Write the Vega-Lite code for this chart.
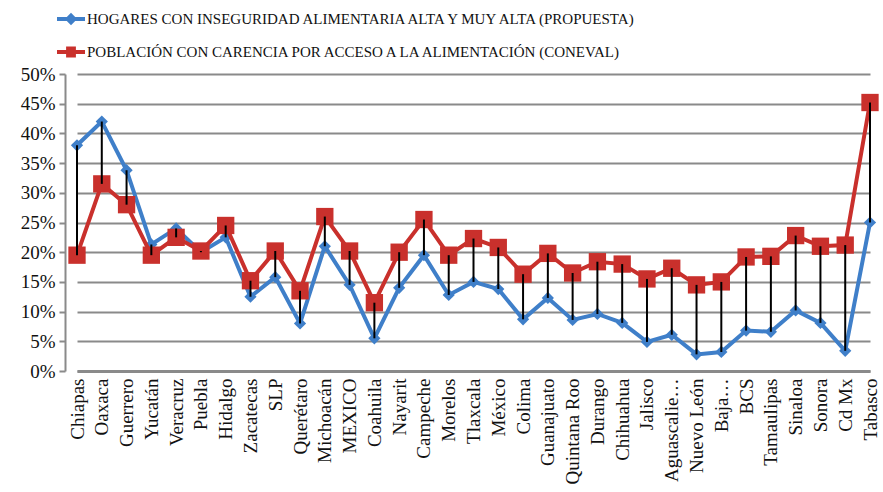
{
  "$schema": "https://vega.github.io/schema/vega-lite/v6.json",
  "width": 818,
  "height": 297,
  "autosize": "none",
  "padding": {"left": 65, "top": 74, "right": 0, "bottom": 121},
  "background": "white",
  "config": {
    "view": {"stroke": null},
    "font": "Liberation Serif",
    "axis": {"labelFont": "Liberation Serif"},
    "legend": {"labelFont": "Liberation Serif"}
  },
  "data": {
    "values": [
      {"estado": "Chiapas", "propuesta": 0.38, "coneval": 0.195},
      {"estado": "Oaxaca", "propuesta": 0.42, "coneval": 0.315},
      {"estado": "Guerrero", "propuesta": 0.338, "coneval": 0.28},
      {"estado": "Yucatán", "propuesta": 0.213, "coneval": 0.195},
      {"estado": "Veracruz", "propuesta": 0.24, "coneval": 0.225},
      {"estado": "Puebla", "propuesta": 0.20, "coneval": 0.202},
      {"estado": "Hidalgo", "propuesta": 0.225, "coneval": 0.245},
      {"estado": "Zacatecas", "propuesta": 0.125, "coneval": 0.152},
      {"estado": "SLP", "propuesta": 0.158, "coneval": 0.202},
      {"estado": "Querétaro", "propuesta": 0.08, "coneval": 0.135},
      {"estado": "Michoacán", "propuesta": 0.21, "coneval": 0.26},
      {"estado": "MEXICO", "propuesta": 0.145, "coneval": 0.202},
      {"estado": "Coahuila", "propuesta": 0.055, "coneval": 0.115},
      {"estado": "Nayarit", "propuesta": 0.14, "coneval": 0.20},
      {"estado": "Campeche", "propuesta": 0.195, "coneval": 0.255},
      {"estado": "Morelos", "propuesta": 0.128, "coneval": 0.195},
      {"estado": "Tlaxcala", "propuesta": 0.15, "coneval": 0.223},
      {"estado": "México", "propuesta": 0.138, "coneval": 0.208},
      {"estado": "Colima", "propuesta": 0.087, "coneval": 0.163},
      {"estado": "Guanajuato", "propuesta": 0.123, "coneval": 0.198},
      {"estado": "Quintana Roo", "propuesta": 0.086, "coneval": 0.165},
      {"estado": "Durango", "propuesta": 0.096, "coneval": 0.184},
      {"estado": "Chihuahua", "propuesta": 0.081, "coneval": 0.18},
      {"estado": "Jalisco", "propuesta": 0.049, "coneval": 0.155},
      {"estado": "Aguascalie…", "propuesta": 0.061, "coneval": 0.173},
      {"estado": "Nuevo León", "propuesta": 0.028, "coneval": 0.145},
      {"estado": "Baja…", "propuesta": 0.032, "coneval": 0.15},
      {"estado": "BCS", "propuesta": 0.068, "coneval": 0.192},
      {"estado": "Tamaulipas", "propuesta": 0.066, "coneval": 0.193},
      {"estado": "Sinaloa", "propuesta": 0.102, "coneval": 0.228},
      {"estado": "Sonora", "propuesta": 0.081, "coneval": 0.21},
      {"estado": "Cd Mx", "propuesta": 0.034, "coneval": 0.212},
      {"estado": "Tabasco", "propuesta": 0.25, "coneval": 0.452}
    ]
  },
  "transform": [
    {"fold": ["propuesta", "coneval"], "as": ["clave", "valor"]},
    {"lookup": "clave", "from": {"data": {"values": [
      {"clave": "propuesta", "serie": "HOGARES CON INSEGURIDAD ALIMENTARIA ALTA Y MUY ALTA (PROPUESTA)"},
      {"clave": "coneval", "serie": "POBLACIÓN CON CARENCIA POR ACCESO A LA ALIMENTACIÓN (CONEVAL)"}
    ]}, "key": "clave", "fields": ["serie"]}}
  ],
  "encoding": {
    "x": {
      "field": "estado", "type": "nominal", "sort": null,
      "scale": {"type": "point", "range": [12, 805], "padding": 0},
      "axis": {
        "title": null, "labelAngle": -90, "labelFontSize": 19, "labelColor": "#111",
        "labelFont": "Liberation Serif",
        "labelPadding": 7, "ticks": false, "domain": true, "domainColor": "#8a8a8a",
        "domainWidth": 3, "labelOverlap": false, "labelLimit": 0, "grid": false
      }
    },
    "y": {"field": "valor", "type": "quantitative",
      "scale": {"domain": [0, 0.5], "nice": false},
      "axis": {
        "title": null, "format": ".0%", "values": [0, 0.05, 0.1, 0.15, 0.2, 0.25, 0.3, 0.35, 0.4, 0.45, 0.5],
        "labelFontSize": 19, "labelColor": "#111", "labelPadding": 4, "labelFont": "Liberation Serif",
        "labelOverlap": false,
        "tickSize": 6, "tickColor": "#8a8a8a", "tickWidth": 2,
        "domain": true, "domainColor": "#8a8a8a", "domainWidth": 2,
        "grid": true, "gridColor": "#8a8a8a", "gridWidth": 2
      }}
  },
  "layer": [
    {
      "transform": [{"filter": "datum.clave == 'propuesta'"}],
      "mark": {"type": "line", "strokeWidth": 4},
      "encoding": {
        "color": {"field": "serie", "type": "nominal",
          "scale": {"domain": ["HOGARES CON INSEGURIDAD ALIMENTARIA ALTA Y MUY ALTA (PROPUESTA)", "POBLACIÓN CON CARENCIA POR ACCESO A LA ALIMENTACIÓN (CONEVAL)"], "range": ["#3f7fc9", "#c9302c"]},
          "legend": {
            "title": null, "orient": "none", "legendX": -8, "legendY": -69,
            "direction": "vertical", "padding": 0, "rowPadding": 11,
            "symbolSize": 784, "labelOffset": 2, "labelFontSize": 15, "labelColor": "#111",
            "labelFont": "Liberation Serif",
            "labelLimit": 0, "symbolStrokeWidth": 0,
            "encode": {
              "labels": {"update": {"font": {"value": "Liberation Serif"}}},
              "symbols": {"update": {
                "shape": {"signal": "indexof(datum.value, 'HOGARES') == 0 ? 'M-1,-0.15L-0.3,-0.15L0,-0.45L0.3,-0.15L1,-0.15L1,0.15L0.3,0.15L0,0.45L-0.3,0.15L-1,0.15Z' : 'M-1,-0.15L-0.35,-0.15L-0.35,-0.4L0.35,-0.4L0.35,-0.15L1,-0.15L1,0.15L0.35,0.15L0.35,0.4L-0.35,0.4L-0.35,0.15L-1,0.15Z'"},
                "fill": {"signal": "indexof(datum.value, 'HOGARES') == 0 ? '#3f7fc9' : '#c9302c'"},
                "strokeWidth": {"value": 0},
                "opacity": {"value": 1}
              }}
            }
          }}
      }
    },
    {
      "transform": [{"filter": "datum.clave == 'propuesta'"}],
      "mark": {"type": "point", "shape": "diamond", "filled": true, "size": 150, "opacity": 1, "color": "#3f7fc9"}
    },
    {
      "transform": [{"filter": "datum.clave == 'coneval'"}],
      "mark": {"type": "line", "strokeWidth": 4},
      "encoding": {
        "color": {"field": "serie", "type": "nominal"}
      }
    },
    {
      "transform": [{"filter": "datum.clave == 'coneval'"}],
      "mark": {"type": "point", "shape": "square", "filled": true, "size": 300, "opacity": 1, "color": "#c9302c"}
    },
    {
      "transform": [{"filter": "datum.clave == 'propuesta'"}],
      "mark": {"type": "rule", "color": "#000", "strokeWidth": 2},
      "encoding": {
        "y2": {"field": "coneval"}
      }
    }
  ]
}
